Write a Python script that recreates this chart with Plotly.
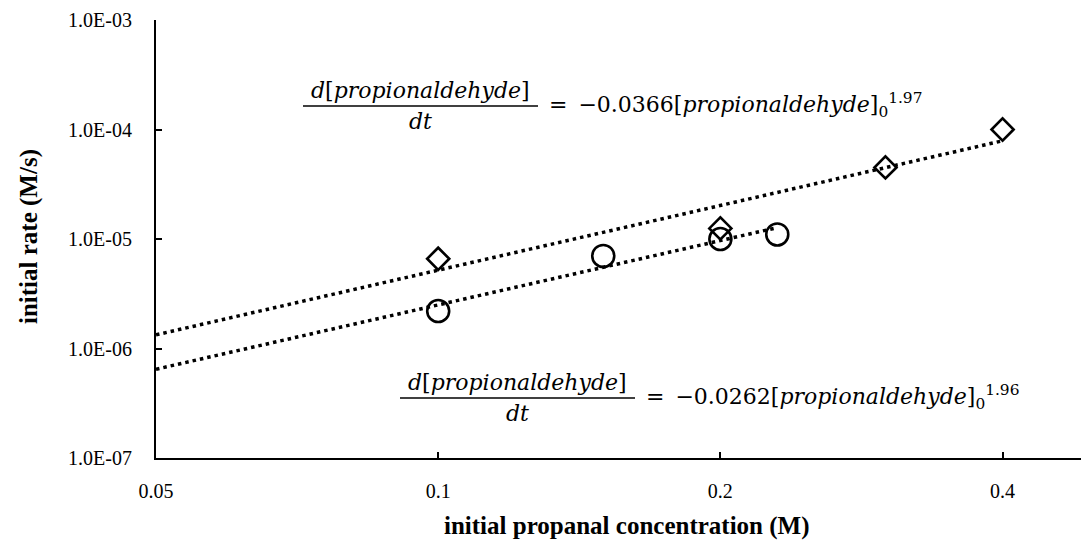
import numpy as np
import plotly.graph_objects as go

# ---- data ----
diamond_x = [0.1, 0.2, 0.3, 0.4]
diamond_y = [6.6e-6, 1.25e-5, 4.5e-5, 1.0e-4]
circle_x = [0.1, 0.15, 0.2, 0.23]
circle_y = [2.2e-6, 7.0e-6, 1.0e-5, 1.1e-5]

x_tickvals = [0.05, 0.1, 0.2, 0.4]
x_ticktext = ["0.05", "0.1", "0.2", "0.4"]
y_tickvals = [1e-7, 1e-6, 1e-5, 1e-4, 1e-3]
y_ticktext = ["1.0E-07", "1.0E-06", "1.0E-05", "1.0E-04", "1.0E-03"]

eq_upper = ("0.0366", "1.97")
eq_lower = ("0.0262", "1.96")

x_axis_title = "initial propanal concentration (M)"
y_axis_title = "initial rate (M/s)"

X_MIN = 0.05
X_MAX = 0.485


def power_fit(xs, ys, x_start):
    lx, ly = np.log10(xs), np.log10(ys)
    b, a = np.polyfit(lx, ly, 1)
    xt = np.array([x_start, max(xs)])
    return xt, 10 ** (a + b * np.log10(xt))


W, H = 1081, 542
L, R, T, B = 156, 0, 20, 84
PW, PH = W - L - R, H - T - B

fig = go.Figure()

dot = "3.5px,4px"
for xs, ys in [(diamond_x, diamond_y), (circle_x, circle_y)]:
    tx, ty = power_fit(xs, ys, X_MIN)
    fig.add_trace(go.Scatter(x=tx, y=ty, mode="lines",
                             line=dict(color="black", width=3.5, dash=dot),
                             hoverinfo="skip", showlegend=False))

fig.add_trace(go.Scatter(x=diamond_x, y=diamond_y, mode="markers",
                         marker=dict(symbol="diamond-open", size=17, color="black",
                                     line=dict(color="black", width=2.6)),
                         showlegend=False))
fig.add_trace(go.Scatter(x=circle_x, y=circle_y, mode="markers",
                         marker=dict(symbol="circle-open", size=22, color="black",
                                     line=dict(color="black", width=2.6)),
                         showlegend=False))

tickfont = dict(family="Liberation Serif", size=20, color="black")
fig.update_xaxes(type="log", range=[np.log10(X_MIN), np.log10(X_MAX)],
                 tickvals=x_tickvals, ticktext=x_ticktext,
                 ticks="inside", ticklen=6, tickwidth=2, tickcolor="black",
                 showline=True, linecolor="black", linewidth=2,
                 showgrid=False, zeroline=False, tickfont=tickfont,
                 ticklabelstandoff=14)
fig.update_yaxes(type="log", range=[-7, -3],
                 tickvals=y_tickvals, ticktext=y_ticktext,
                 ticks="inside", ticklen=6, tickwidth=2, tickcolor="black",
                 showline=True, linecolor="black", linewidth=2,
                 showgrid=False, zeroline=False, tickfont=tickfont,
                 ticklabelstandoff=18)


def px2paper(px, py):
    return (px - L) / PW, (T + PH - py) / PH


eqfont = dict(family="DejaVu Serif", size=22, color="black")
annotations = []
shapes = []


def add_equation(bar_x0, bar_x1, bar_y, coef, expo):
    x0, y0 = px2paper(bar_x0, bar_y)
    x1, _ = px2paper(bar_x1, bar_y)
    xc = (x0 + x1) / 2
    shapes.append(dict(type="line", xref="paper", yref="paper", x0=x0, x1=x1,
                       y0=y0, y1=y0, line=dict(color="black", width=1.5)))
    annotations.append(dict(xref="paper", yref="paper", x=xc, y=y0,
                            text="<i>d</i>[<i>propionaldehyde</i>]",
                            xanchor="center", yanchor="bottom", yshift=1,
                            showarrow=False, font=eqfont))
    annotations.append(dict(xref="paper", yref="paper", x=xc, y=y0,
                            text="<i>dt</i>", xanchor="center", yanchor="top",
                            yshift=-1, showarrow=False, font=eqfont))
    annotations.append(dict(xref="paper", yref="paper", x=x1, y=y0,
                            text="=\u2002\u2212" + coef + "[<i>propionaldehyde</i>]<sub>0</sub><sup>" + expo + "</sup>",
                            xanchor="left", yanchor="middle", xshift=9, yshift=1,
                            showarrow=False, font=eqfont))


add_equation(303, 538, 106, *eq_upper)
add_equation(400, 635, 398, *eq_lower)

titlefont = dict(family="Liberation Serif", size=25, color="black")
annotations.append(dict(xref="paper", yref="paper", x=0.5, y=0, yanchor="middle",
                        xshift=8, yshift=-68, text="<b>" + x_axis_title + "</b>",
                        showarrow=False, font=titlefont))
annotations.append(dict(xref="paper", yref="paper", x=0, y=0.5, xanchor="center",
                        xshift=-(L - 29), yshift=2, text="<b>" + y_axis_title + "</b>",
                        textangle=-90, showarrow=False, font=titlefont))

fig.update_layout(width=W, height=H, margin=dict(l=L, r=R, t=T, b=B),
                  paper_bgcolor="white", plot_bgcolor="white",
                  annotations=annotations, shapes=shapes, showlegend=False)

fig.write_html("out.html")
